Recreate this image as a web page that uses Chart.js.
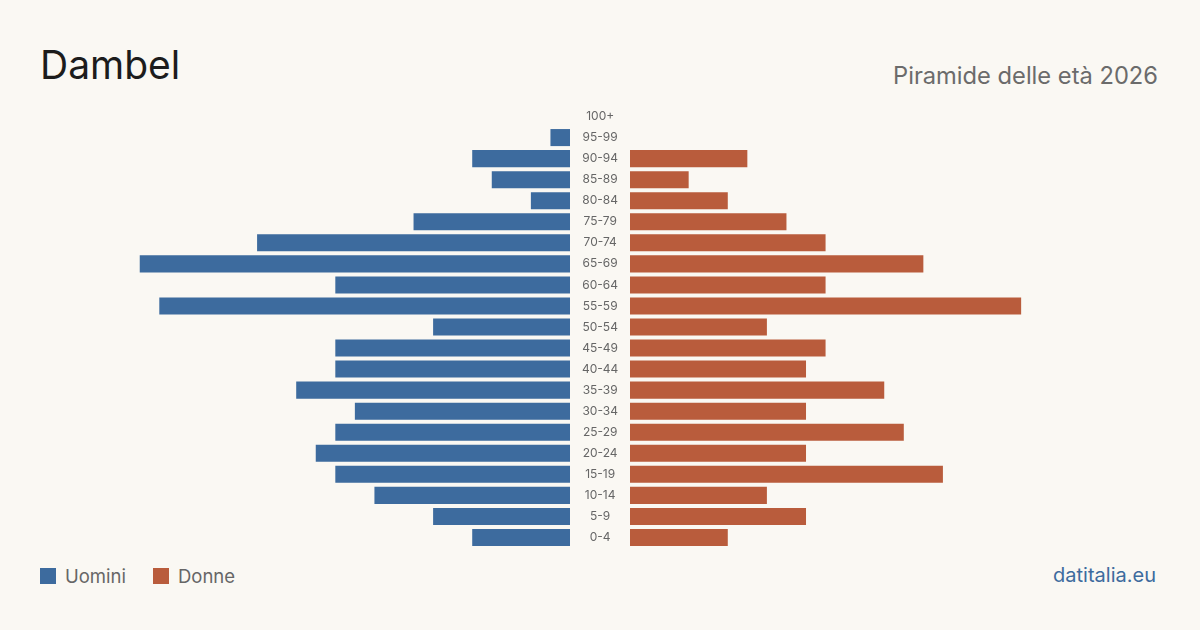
<!DOCTYPE html>
<html><head><meta charset="utf-8">
<script src="https://cdn.jsdelivr.net/npm/chart.js@4.4.1/dist/chart.umd.min.js"></script>
<style>
html,body{margin:0;padding:0;background:#faf8f3;}
body{width:1200px;height:630px;position:relative;overflow:hidden;font-family:Inter,"Noto Sans",sans-serif;}
#title{position:absolute;left:40px;top:45px;font-size:39px;color:#1c1c1c;line-height:1;}
#sub{position:absolute;right:42px;top:64px;font-size:23.7px;color:#6b6b6b;line-height:1;}
.leg{position:absolute;top:567px;font-size:18.5px;color:#666;line-height:18px;display:flex;align-items:center;}
.sq{width:16px;height:16px;display:inline-block;margin-right:9px;}
#brand{position:absolute;right:44px;top:565px;font-size:20px;color:#3d6b9e;line-height:1;}
#c1{position:absolute;left:40px;top:106px;}
#c2{position:absolute;left:630px;top:106px;}
</style></head>
<body>
<div id="title">Dambel</div>
<div id="sub">Piramide delle età 2026</div>
<div class="leg" style="left:40px"><span class="sq" style="background:#3d6b9e"></span>Uomini</div>
<div class="leg" style="left:153px"><span class="sq" style="background:#b95c3c"></span>Donne</div>
<div id="brand">datitalia.eu</div>
<div id="c1" style="width:590px;height:442px"><canvas id="left"></canvas></div>
<div id="c2" style="width:530px;height:442px"><canvas id="right"></canvas></div>
<script>
const ageGroups = ["100+","95-99","90-94","85-89","80-84","75-79","70-74","65-69","60-64","55-59","50-54","45-49","40-44","35-39","30-34","25-29","20-24","15-19","10-14","5-9","0-4"];
const maleValues = [0,1,5,4,2,8,16,22,12,21,7,12,12,14,11,12,13,12,10,7,5];
const femaleValues = [0,0,6,3,5,8,10,15,10,20,7,10,9,13,9,14,9,16,7,9,5];
const axisMax = 27.1;

Chart.defaults.font.family = 'Inter, "Noto Sans", sans-serif';
Chart.defaults.animation = false;

function makeChart(id, values, color, isLeft){
  return new Chart(document.getElementById(id), {
    type: 'bar',
    data: { labels: ageGroups, datasets: [{ data: values, backgroundColor: color, borderWidth: 0, categoryPercentage: 1, barPercentage: 0.81 }] },
    options: {
      indexAxis: 'y', responsive: true, maintainAspectRatio: false,
      layout: { padding: 0 },
      plugins: { legend: { display: false }, tooltip: { enabled: false } },
      scales: {
        x: { display: false, min: 0, max: axisMax, reverse: isLeft },
        y: isLeft ? {
          position: 'right', grid: { display: false }, border: { display: false },
          ticks: { color: '#666', font: { size: 12 }, crossAlign: 'center', padding: 4, autoSkip: false },
          afterFit: (s) => { s.width = 60; s.paddingTop = 0; s.paddingBottom = 0; }
        } : { display: false }
      }
    }
  });
}
makeChart('left', maleValues, '#3d6b9e', true);
makeChart('right', femaleValues, '#b95c3c', false);
</script>
</body></html>
